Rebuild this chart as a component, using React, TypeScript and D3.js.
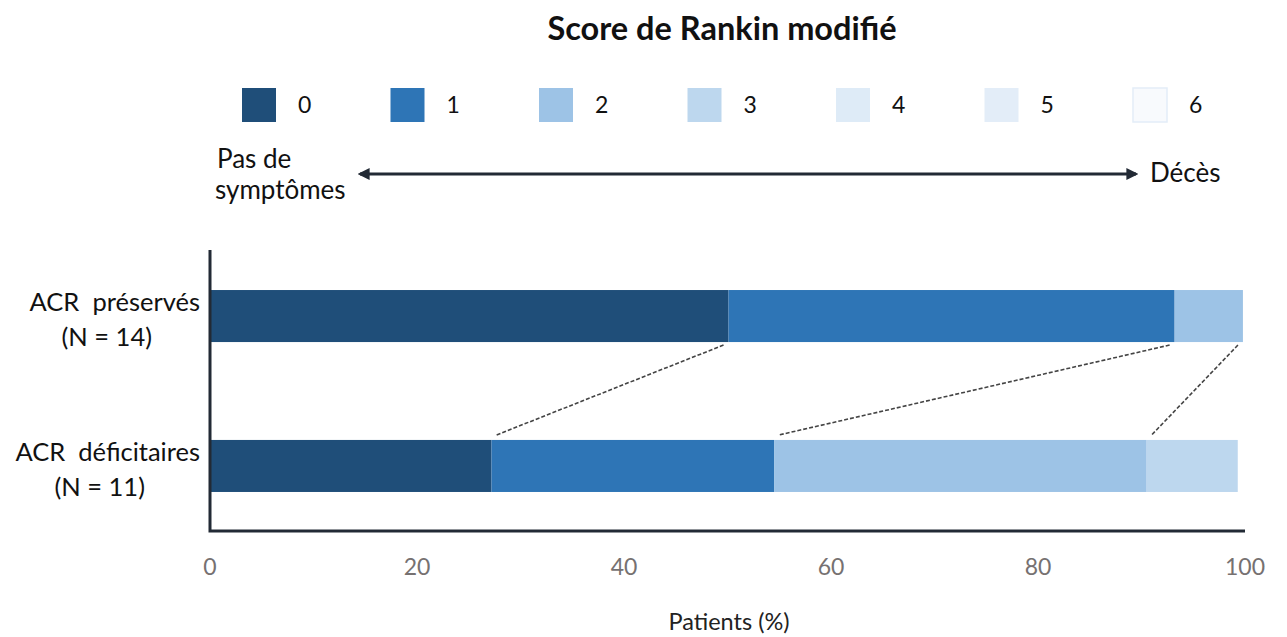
import React, { useEffect, useRef } from "react";
import * as d3 from "d3";

const W = 1287;
const H = 637;

const scores = ["0", "1", "2", "3", "4", "5", "6"];
const colors = ["#1f4e79", "#2e75b6", "#9dc3e6", "#bdd7ee", "#deebf7", "#e3edf8", "#f8fafd"];
const groups = ["ACR  préservés", "ACR  déficitaires"];
const groupN = ["(N = 14)", "(N = 11)"];
// percent of patients per score 0..6
const preserved = [50.1, 43.1, 6.6, 0, 0, 0, 0];
const deficit = [27.2, 27.3, 36.0, 8.8, 0, 0, 0];
const xTicks = [0, 20, 40, 60, 80, 100];
// scores whose cumulative ends are linked between the two bars
const linked = [0, 1, 2];

const font = "Lato, 'Open Sans', sans-serif";

function App() {
  const svgRef = useRef(null);

  useEffect(() => {
    const svg = d3.select(svgRef.current);
    svg.selectAll("*").remove();

    const x = d3.scaleLinear().domain([0, 100]).range([210, 1245]);
    const y = d3.scaleBand().domain(groups).range([250, 532]).paddingInner(0.653).paddingOuter(0.267);

    const rows = [preserved, deficit];
    const cum = rows.map((r) => {
      let s = 0;
      return r.map((v) => {
        const start = s;
        s += v;
        return [start, s];
      });
    });

    // Title
    svg
      .append("text")
      .attr("x", 722)
      .attr("y", 40)
      .attr("text-anchor", "middle")
      .style("font-family", font)
      .style("font-weight", "bold")
      .style("font-size", "32.5px")
      .attr("fill", "#111")
      .text("Score de Rankin modifié");

    // Legend
    const legendX = d3.scalePoint().domain(scores).range([242, 1133]);
    const lg = svg
      .append("g")
      .selectAll("g")
      .data(scores)
      .join("g")
      .attr("transform", (d) => `translate(${legendX(d)},88)`);
    lg.append("rect")
      .attr("width", 34)
      .attr("height", 34)
      .attr("fill", (_, i) => colors[i])
      .attr("stroke", (_, i) => (i === 6 ? "#e3edf8" : "none"))
      .attr("stroke-width", 1.5);
    lg.append("text")
      .attr("x", 56)
      .attr("y", 25)
      .style("font-family", font)
      .style("font-size", "23px")
      .attr("fill", "#111")
      .text((d) => d);

    // Arrow
    const defs = svg.append("defs");
    defs
      .append("marker")
      .attr("id", "ah")
      .attr("viewBox", "0 0 10 10")
      .attr("refX", 8)
      .attr("refY", 5)
      .attr("markerWidth", 4)
      .attr("markerHeight", 4)
      .attr("orient", "auto-start-reverse")
      .append("path")
      .attr("d", "M0,0L10,5L0,10Z")
      .attr("fill", "#222a35");
    svg
      .append("line")
      .attr("x1", 360)
      .attr("x2", 1136)
      .attr("y1", 174)
      .attr("y2", 174)
      .attr("stroke", "#222a35")
      .attr("stroke-width", 3)
      .attr("marker-start", "url(#ah)")
      .attr("marker-end", "url(#ah)");
    const side = svg.append("g").style("font-family", font).style("font-size", "26px").attr("fill", "#111");
    side.append("text").attr("x", 217).attr("y", 168).text("Pas de");
    side.append("text").attr("x", 215).attr("y", 199).text("symptômes");
    side.append("text").attr("x", 1150).attr("y", 182).text("Décès");

    // Dashed connectors between bars
    const yTopEnd = (y(groups[0]) as number) + y.bandwidth();
    const yBotStart = y(groups[1]) as number;
    svg
      .append("g")
      .selectAll("line")
      .data(linked)
      .join("line")
      .attr("x1", (i) => x(cum[0][i][1]) - 5)
      .attr("y1", yTopEnd + 3)
      .attr("x2", (i) => x(cum[1][i][1]) + 5)
      .attr("y2", yBotStart - 5)
      .attr("stroke", "#444")
      .attr("stroke-width", 1.6)
      .attr("stroke-dasharray", "4,2");

    // Bars
    svg
      .append("g")
      .selectAll("g")
      .data(groups)
      .join("g")
      .each(function (g, gi) {
        d3.select(this)
          .selectAll("rect")
          .data(cum[gi].filter((c) => c[1] > c[0]))
          .join("rect")
          .attr("x", (c) => x(c[0]))
          .attr("width", (c) => x(c[1]) - x(c[0]))
          .attr("y", y(g) as number)
          .attr("height", y.bandwidth())
          .attr("fill", (_, i) => colors[i]);
      });

    // Axes
    svg
      .append("path")
      .attr("d", `M${x(0)},${250}V${531}H${x(100)}`)
      .attr("fill", "none")
      .attr("stroke", "#222a35")
      .attr("stroke-width", 3);

    svg
      .append("g")
      .selectAll("text")
      .data(xTicks)
      .join("text")
      .attr("x", (d) => x(d))
      .attr("y", 575)
      .attr("text-anchor", "middle")
      .style("font-family", font)
      .style("font-size", "23px")
      .attr("fill", "#767171")
      .text((d) => d);

    svg
      .append("text")
      .attr("x", 729)
      .attr("y", 630)
      .attr("text-anchor", "middle")
      .style("font-family", font)
      .style("font-size", "23.5px")
      .attr("fill", "#222")
      .text("Patients (%)");

    // Group labels
    groups.forEach((g, gi) => {
      const cy = (y(g) as number) + y.bandwidth() / 2;
      const t1 = svg
        .append("text")
        .attr("x", 200)
        .attr("y", cy - 5)
        .attr("text-anchor", "end")
        .style("font-family", font)
        .style("font-size", "25.5px")
        .style("white-space", "pre")
        .attr("fill", "#111")
        .text(g);
      const w1 = (t1.node() as SVGTextElement).getComputedTextLength();
      svg
        .append("text")
        .attr("x", 200 - w1 / 2 - 8)
        .attr("y", cy + 30)
        .attr("text-anchor", "middle")
        .style("font-family", font)
        .style("font-size", "25.5px")
        .attr("fill", "#111")
        .text(groupN[gi]);
    });
  }, []);

  return (
    <svg
      ref={svgRef}
      width={W}
      height={H}
      style={{ position: "absolute", left: 0, top: 0, background: "#fff" }}
    />
  );
}

export default App;
